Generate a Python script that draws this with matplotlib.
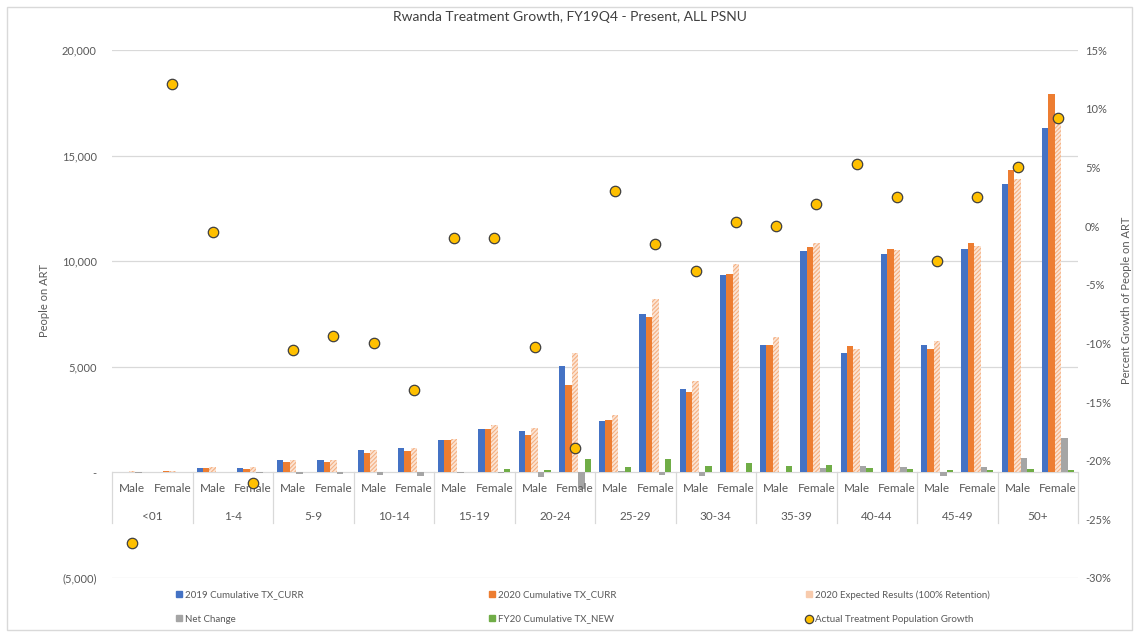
import matplotlib.pyplot as plt
import matplotlib.patches as mpatches
from matplotlib.lines import Line2D
from matplotlib.ticker import FuncFormatter
import numpy as np

plt.rcParams['font.family'] = ['Lato', 'DejaVu Sans']
plt.rcParams['hatch.linewidth'] = 0.8

# age groups and sexes along the category axis
age_groups = ['<01', '1-4', '5-9', '10-14', '15-19', '20-24', '25-29',
              '30-34', '35-39', '40-44', '45-49', '50+']
sexes = ['Male', 'Female']

# values, Male/Female pairs in age order
tx_curr_2019 = [40, 40, 220, 230, 570, 570, 1040, 1150, 1550, 2070, 1970, 5020,
                2430, 7490, 3970, 9370, 6040, 10480, 5670, 10330, 6040, 10590, 13650, 16290]
tx_curr_2020 = [29, 45, 220, 180, 510, 516, 936, 990, 1535, 2050, 1770, 4150,
                2500, 7380, 3820, 9400, 6040, 10680, 5970, 10590, 5860, 10850, 14330, 17900]
expected_2020 = [45, 45, 260, 260, 600, 600, 1060, 1170, 1590, 2230, 2100, 5660,
                 2730, 8200, 4310, 9890, 6420, 10870, 5860, 10550, 6210, 10740, 13870, 16800]
net_change = [-11, 5, 0, -50, -60, -55, -100, -160, -15, -20, -200, -800,
              70, -110, -150, 30, 0, 200, 300, 260, -180, 260, 680, 1610]
tx_new_fy20 = [0, 0, 0, 0, 0, 0, 0, 0, 0, 175, 100, 620,
               250, 650, 280, 460, 320, 330, 190, 140, 90, 110, 170, 130]
growth_pct = [-27.0, 12.1, -0.5, -21.9, -10.6, -9.4, -10.0, -14.0, -1.0, -1.0, -10.3, -18.9,
              3.0, -1.5, -3.8, 0.3, 0.0, 1.9, 5.3, 2.5, -3.0, 2.5, 5.0, 9.2]

left_ticks = [-5000, 0, 5000, 10000, 15000, 20000]
left_labels = ['(5,000)', '-', '5,000', '10,000', '15,000', '20,000']

blue = '#4472C4'
orange = '#ED7D31'
light_orange = '#F4B183'
hatch_bg = '#FCE4D4'
gray = '#A5A5A5'
green = '#70AD47'
yellow = '#FFC000'
txt = '#595959'
line_col = '#D9D9D9'

W, H = 1139, 635
fig = plt.figure(figsize=(W / 100, H / 100), dpi=100)
fig.patches.append(mpatches.Rectangle((7 / W, 5 / H), 1 - 14 / W, 1 - 12 / H,
                                      transform=fig.transFigure, fill=False,
                                      edgecolor=line_col, linewidth=1))

ax = fig.add_axes([112 / W, 57 / H, (1078 - 112) / W, 528 / H])
ax2 = ax.twinx()

x = np.arange(len(tx_curr_2019))
w = 0.16
ax.bar(x - 2 * w, tx_curr_2019, w, color=blue, zorder=2)
ax.bar(x - w, tx_curr_2020, w, color=orange, zorder=2)
ax.bar(x, expected_2020, w, facecolor=hatch_bg, edgecolor=light_orange,
       hatch='////////', linewidth=0, zorder=2)
ax.bar(x + w, net_change, w, color=gray, zorder=2)
ax.bar(x + 2 * w, tx_new_fy20, w, color=green, zorder=2)

ax2.plot(x, np.array(growth_pct) / 100, 'o', markersize=7.5, markerfacecolor=yellow,
         markeredgecolor='#404040', markeredgewidth=0.9, zorder=3)

ax.set_xlim(-0.5, len(x) - 0.5)
ax.set_ylim(-5000, 20000)
ax2.set_ylim(-0.30, 0.15)
ax.set_yticks(left_ticks)
ax.set_yticklabels(left_labels)
ax2.set_yticks(np.arange(-0.30, 0.151, 0.05))
ax2.yaxis.set_major_formatter(FuncFormatter(lambda v, p: f'{round(v * 100):.0f}%'))
ax.set_xticks([])
ax.set_axisbelow(True)
ax.yaxis.grid(True, color=line_col, linewidth=0.9)
for a in (ax, ax2):
    for s in a.spines.values():
        s.set_visible(False)
ax.tick_params(axis='y', length=0, pad=11, labelsize=8, labelcolor=txt)
ax2.tick_params(axis='y', length=0, pad=5, labelsize=8, labelcolor=txt)

# category table under the zero line
tr = ax.get_xaxis_transform()
for b in np.arange(-0.5, len(x), 2):
    ax.plot([b, b], [0.104, 0.2], color=line_col, linewidth=0.9,
            transform=tr, clip_on=False)
for i in x:
    ax.text(i, 0.1686, sexes[i % 2], transform=tr, ha='center', va='center',
            fontsize=8.5, color=txt)
for g, name in enumerate(age_groups):
    ax.text(2 * g + 0.5, 0.1174, name, transform=tr, ha='center', va='center',
            fontsize=8.5, color=txt)

fig.text(0.5, 1 - 17 / H, 'Rwanda Treatment Growth, FY19Q4 - Present, ALL PSNU',
         ha='center', va='center', fontsize=10, color='#404040')
fig.text(45 / W, 1 - 300 / H, 'People on ART', rotation=90, ha='center',
         va='center', fontsize=8, color=txt)
fig.text(1127 / W, 1 - 300 / H, 'Percent Growth of People on ART', rotation=90,
         ha='center', va='center', fontsize=8, color=txt)

# legend in three fixed columns
sq = dict(marker='s', linestyle='none', markersize=5)
h_2019 = Line2D([], [], color=blue, **sq)
h_2020 = Line2D([], [], color=orange, **sq)
h_exp = Line2D([], [], color='#F8CBAD', **sq)
h_net = Line2D([], [], color=gray, **sq)
h_new = Line2D([], [], color=green, **sq)
h_grow = Line2D([], [], marker='o', linestyle='none', markersize=6,
                markerfacecolor=yellow, markeredgecolor='#404040', markeredgewidth=0.9)
columns = [([h_2019, h_net], ['2019 Cumulative TX_CURR', 'Net Change'], 176),
           ([h_2020, h_new], ['2020 Cumulative TX_CURR', 'FY20 Cumulative TX_NEW'], 489),
           ([h_exp, h_grow], ['2020 Expected Results (100% Retention)',
                              'Actual Treatment Population Growth'], 806)]
for handles, labels, px in columns:
    fig.legend(handles, labels, loc='upper left',
               bbox_to_anchor=(px / W, 1 - 590 / H), frameon=False,
               fontsize=7, labelcolor=txt, handlelength=0.6, handleheight=0.6,
               handletextpad=0.3, labelspacing=1.6, borderpad=0, borderaxespad=0)

fig.savefig('out.png', dpi=100)
